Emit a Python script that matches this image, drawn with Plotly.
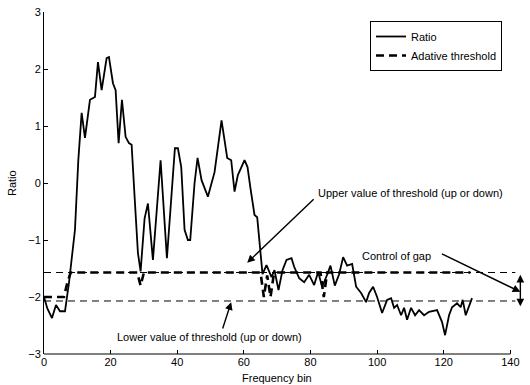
import plotly.graph_objects as go

# Ratio curve (frequency bin, ratio)
ratio_x = [0, 1, 2.4, 3.6, 4.8, 6.3, 7.5, 9.3, 10.3, 11.3, 12.3, 13.8, 15.3, 16.2, 17.3, 18.8, 19.5,
           20.7, 21.5, 22.4, 23.4, 24.5, 25.5, 26.3, 27.2, 28.2, 29, 30.2, 31.2, 32.7, 35, 36.9,
           39.3, 40.2, 41.2, 42.2, 43.2, 43.9, 45.2, 46.1, 47.3, 49.2, 51.2, 53.3, 55, 56.2, 57.2,
           58.2, 60.2, 61.1, 62, 63.2, 64, 65.3, 65.6, 66.8, 68.3, 69.2, 70.4, 71.6, 72.8, 74.3,
           75.1, 76.6, 78.1, 79.6, 81.1, 82.3, 83.5, 85, 86, 87.3, 88.6, 89.8, 91, 92.5, 93.7,
           95.2, 96.7, 97.6, 98.8, 100, 101.5, 103, 104.2, 105.1, 106, 107.2, 108.1, 109, 110.2,
           111.4, 112.6, 114.1, 115.6, 118, 119.5, 120.4, 121.6, 122.5, 124, 125.1, 125.7, 126.6,
           128.1, 128.5]
ratio_y = [-2.0, -2.2, -2.37, -2.14, -2.25, -2.25, -1.75, -0.82, 0.4, 1.23, 0.79, 1.46, 1.51, 2.12,
           1.63, 2.19, 2.21, 1.75, 1.63, 0.70, 1.46, 0.81, 0.70, 0.67, -0.24, -1.23, -1.55, -0.62,
           -0.36, -1.35, 0.40, -1.32, 0.61, 0.61, 0.28, -0.82, -1.0, -1.0, 0.0, 0.44, 0.05, -0.24,
           0.19, 1.1, 0.44, 0.4, -0.15, 0.14, 0.40, 0.28, -0.1, -0.56, -0.6, -1.47, -1.6, -1.44,
           -1.65, -1.53, -1.88, -1.53, -1.35, -1.32, -1.47, -1.67, -1.74, -1.61, -1.79, -1.56,
           -1.82, -1.61, -1.45, -1.8, -1.6, -1.3, -1.45, -1.42, -1.82, -1.93, -2.09, -1.93, -1.82,
           -2.0, -2.28, -2.05, -2.02, -2.19, -2.14, -2.32, -2.19, -2.40, -2.19, -2.32, -2.23,
           -2.32, -2.26, -2.23, -2.44, -2.67, -2.32, -2.18, -2.11, -2.18, -2.05, -2.32, -2.05, -2.02]

# Adaptive threshold (breakpoints)
thr_x = [0, 3, 6, 7, 8, 28, 29, 30, 65, 66, 67, 68, 69, 70, 83, 84, 85, 128]
thr_y = [-2.0, -2.0, -2.0, -1.75, -1.57, -1.57, -1.8, -1.57, -1.57, -2.0, -1.62, -2.0, -1.6,
         -1.57, -1.57, -2.0, -1.57, -1.57]

upper_value = -1.57
lower_value = -2.07
line_end = 141.5
gap_x = 143
gap_top, gap_bottom = -1.61, -2.19

x_ticks = [0, 20, 40, 60, 80, 100, 120, 140]
y_ticks = [-3, -2, -1, 0, 1, 2, 3]

FONT = "Liberation Sans, Arial, sans-serif"

fig = go.Figure()
fig.add_trace(go.Scatter(x=ratio_x, y=ratio_y, mode="lines", name="Ratio",
                         line=dict(color="black", width=1.8)))
fig.add_trace(go.Scatter(x=thr_x, y=thr_y, mode="lines", name="Adative threshold",
                         line=dict(color="black", width=2.6, dash="8px,5px")))

# thin threshold lines
for v in (upper_value, lower_value):
    fig.add_shape(type="line", xref="x", yref="y", x0=0, x1=line_end, y0=v, y1=v,
                  line=dict(color="black", width=1, dash="7px,5px"))

# x axis line up to 140 only
fig.add_shape(type="line", xref="x", yref="paper", x0=0, x1=140, y0=0, y1=0,
              line=dict(color="black", width=1))

ann = dict(font=dict(family=FONT, size=11, color="black"), showarrow=False)
fig.add_annotation(x=81.7, y=-0.17, text="Upper value of threshold (up or down)",
                   xanchor="left", yanchor="middle", **ann)
fig.add_annotation(x=21.3, y=-2.70, text="Lower value of threshold (up or down)",
                   xanchor="left", yanchor="middle", **ann)
fig.add_annotation(x=94.9, y=-1.28, text="Control of gap",
                   xanchor="left", yanchor="middle", **ann)

arr = dict(showarrow=True, text="", arrowhead=2, arrowsize=1.1, arrowwidth=1.4,
           arrowcolor="black", axref="x", ayref="y", xref="x", yref="y")
fig.add_annotation(x=61.0, y=-1.40, ax=81.4, ay=-0.26, **arr)
fig.add_annotation(x=56.2, y=-2.09, ax=53.5, ay=-2.58, **arr)
fig.add_annotation(x=143, y=-1.91, ax=119, ay=-1.23, **arr)
fig.add_annotation(x=gap_x, y=gap_top, ax=gap_x, ay=gap_bottom, arrowside="end+start", **arr)

# axis titles
fig.add_annotation(xref="paper", yref="paper", x=(277 - 44) / 483, y=-24 / 342,
                   text="Frequency bin", xanchor="center", yanchor="middle", **ann)
fig.add_annotation(xref="paper", yref="paper", x=-32 / 483, y=0.5, textangle=-90,
                   text="Ratio", xanchor="center", yanchor="middle", **ann)

fig.update_layout(
    width=530, height=385,
    margin=dict(l=44, r=3, t=12, b=31),
    paper_bgcolor="white", plot_bgcolor="white",
    font=dict(family=FONT, size=11, color="black"),
    showlegend=True,
    legend=dict(x=(502 - 44) / 483, y=(354 - 21) / 342, xanchor="right", yanchor="top",
                bgcolor="white", bordercolor="black", borderwidth=1,
                font=dict(family=FONT, size=11, color="black"), tracegroupgap=0),
    xaxis=dict(range=[0, 145], tickvals=x_ticks, showline=False, showgrid=False,
               zeroline=False, ticks="inside", ticklen=4, tickcolor="black",
               tickfont=dict(family=FONT, size=11, color="black")),
    yaxis=dict(range=[-3, 3], tickvals=y_ticks, showline=True, linecolor="black",
               linewidth=1, showgrid=False, zeroline=False, ticks="inside", ticklen=4,
               tickcolor="black", tickfont=dict(family=FONT, size=11, color="black")),
)

fig.write_html("out.html")
